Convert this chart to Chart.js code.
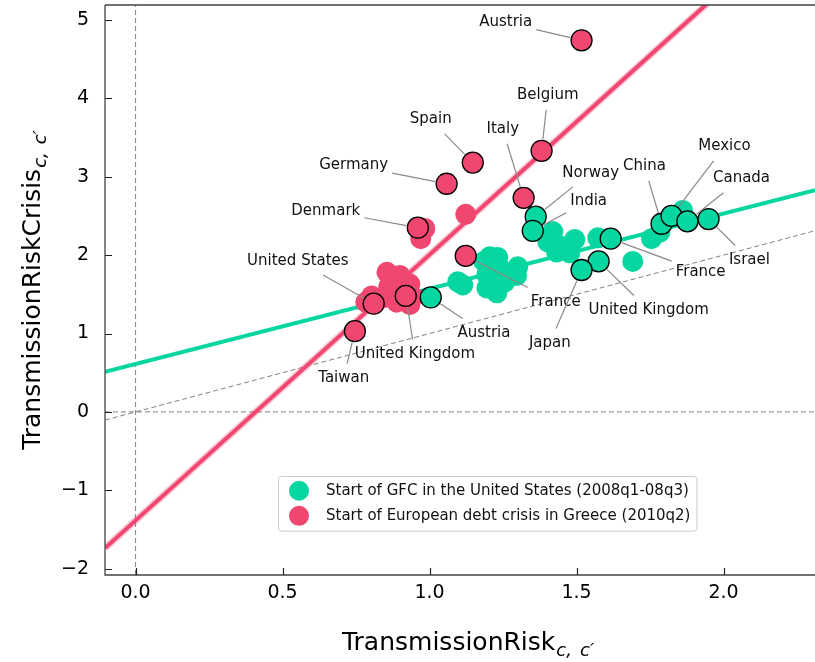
<!DOCTYPE html>
<html>
<head>
<meta charset="utf-8">
<script src="https://cdn.jsdelivr.net/npm/chart.js@4/dist/chart.umd.min.js"></script>
<style>
  html, body { margin: 0; padding: 0; background: #ffffff; }
  #wrap { width: 815px; height: 662px; }
</style>
</head>
<body>
<div id="wrap"><canvas id="c" width="815" height="662"></canvas></div>
<script>
// Axis ranges and tick marks
const X_MIN = -0.104, X_MAX = 2.311;
const Y_MIN = -2.08, Y_MAX = 5.19;
const xTicks = [0, 0.5, 1.0, 1.5, 2.0];
const yTicks = [-2, -1, 0, 1, 2, 3, 4, 5];

// Start of GFC in the United States (2008q1-08q3): annotated pairs
const gfcNames  = ['Austria', 'Norway', 'India', 'France', 'United Kingdom', 'Japan', 'China', 'Mexico', 'Canada', 'Israel'];
const gfcX      = [1.004, 1.361, 1.351, 1.616, 1.575, 1.517, 1.789, 1.823, 1.877, 1.949];
const gfcY      = [1.46, 2.49, 2.31, 2.21, 1.92, 1.81, 2.40, 2.50, 2.43, 2.46];
const gfcLabelX = [1.185, 1.548, 1.541, 1.922, 1.745, 1.409, 1.731, 2.003, 2.061, 2.088];
const gfcLabelY = [1.009, 3.052, 2.695, 1.788, 1.303, 0.881, 3.129, 3.384, 2.976, 1.941];
// remaining GFC pairs
const gfcOtherX = [1.096, 1.113, 1.205, 1.232, 1.185, 1.195, 1.245, 1.195, 1.229, 1.256, 1.300, 1.296,
                   1.419, 1.402, 1.432, 1.453, 1.494, 1.477, 1.572, 1.691, 1.755, 1.783, 1.861];
const gfcOtherY = [1.66, 1.62, 1.98, 1.97, 1.92, 1.75, 1.81, 1.58, 1.52, 1.66, 1.85, 1.74,
                   2.30, 2.17, 2.04, 2.11, 2.20, 2.03, 2.22, 1.92, 2.21, 2.29, 2.57];

// Start of European debt crisis in Greece (2010q2): annotated pairs
const grcNames  = ['Austria', 'Belgium', 'Spain', 'Italy', 'Germany', 'Denmark', 'France', 'United States', 'United Kingdom', 'Taiwan'];
const grcX      = [1.517, 1.381, 1.147, 1.320, 1.058, 0.960, 1.123, 0.810, 0.919, 0.746];
const grcY      = [4.74, 3.33, 3.18, 2.73, 2.91, 2.35, 1.99, 1.38, 1.48, 1.03];
const grcLabelX = [1.259, 1.402, 1.004, 1.249, 0.742, 0.647, 1.429, 0.552, 0.950, 0.708];
const grcLabelY = [4.968, 4.035, 3.729, 3.602, 3.142, 2.567, 1.405, 1.928, 0.741, 0.434];
// remaining Greece pairs
const grcOtherX = [1.123, 0.984, 0.970, 0.855, 0.899, 0.933, 0.861, 0.882, 0.803, 0.783, 0.848, 0.888, 0.943, 0.933];
const grcOtherY = [2.52, 2.34, 2.21, 1.78, 1.74, 1.63, 1.60, 1.53, 1.48, 1.40, 1.46, 1.40, 1.47, 1.37];

// Fitted regression lines (GFC, Greece)
const fitIntercept = [0.61, -1.384];
const fitSlope     = [0.96, 3.39];

const seriesLabels = ['Start of GFC in the United States (2008q1-08q3)',
                      'Start of European debt crisis in Greece (2010q2)'];

const GREEN = '#06D6A0';
const RED = '#EF476F';
const FONT = "'DejaVu Sans', 'Liberation Sans', sans-serif";

const pts = (xs, ys) => xs.map((x, i) => ({ x: x, y: ys[i] }));
const fitLine = k => [X_MIN, X_MAX].map(x => ({ x: x, y: fitIntercept[k] + fitSlope[k] * x }));

const refStyle = { type: 'line', borderColor: '#808080', borderWidth: 1, borderDash: [5, 3],
                   pointRadius: 0, fill: false, order: 10 };

const datasets = [
  Object.assign({ data: [{ x: X_MIN, y: X_MIN }, { x: X_MAX, y: X_MAX }] }, refStyle),
  Object.assign({ data: [{ x: X_MIN, y: 0 }, { x: X_MAX, y: 0 }] }, refStyle),
  Object.assign({ data: [{ x: 0, y: Y_MIN }, { x: 0, y: Y_MAX }] }, refStyle),
  { label: seriesLabels[0], data: pts(gfcOtherX, gfcOtherY), backgroundColor: GREEN,
    borderWidth: 0, pointRadius: 10.5, order: 9 },
  { type: 'line', data: fitLine(0), borderColor: GREEN, borderWidth: 4, pointRadius: 0, fill: false, order: 8 },
  { label: seriesLabels[1], data: pts(grcOtherX, grcOtherY), backgroundColor: RED,
    borderWidth: 0, pointRadius: 10.5, order: 7 },
  { type: 'line', data: fitLine(1), borderColor: 'rgba(239,71,111,0.3)', borderWidth: 7, pointRadius: 0, fill: false, order: 6 },
  { type: 'line', data: fitLine(1), borderColor: RED, borderWidth: 4, pointRadius: 0, fill: false, order: 5 },
  { data: pts(gfcX, gfcY), backgroundColor: GREEN, borderColor: '#000', borderWidth: 1.3,
    pointRadius: 10.5, order: 4 },
  { data: pts(grcX, grcY), backgroundColor: RED, borderColor: '#000', borderWidth: 1.3,
    pointRadius: 10.5, order: 3 }
];

function fmtY(v) { return v < 0 ? '\u2212' + Math.abs(v) : String(v); }

// text followed by an italic math-style subscript "c, c′"
function drawSubscripted(ctx, main, size) {
  const subSize = Math.round(size * 0.72);
  ctx.font = size + 'px ' + FONT;
  const w1 = ctx.measureText(main).width;
  ctx.font = 'italic ' + subSize + 'px ' + FONT;
  const wA = ctx.measureText('c,').width;
  const gap = subSize * 0.45;
  const wB = ctx.measureText('c\u2032').width;
  const total = w1 + 1 + wA + gap + wB;
  const base = size * 0.36;
  const subBase = base + size * 0.25;
  ctx.textBaseline = 'alphabetic';
  ctx.textAlign = 'left';
  let cx = -total / 2;
  ctx.font = size + 'px ' + FONT;
  ctx.fillText(main, cx, base);
  cx += w1 + 1;
  ctx.font = 'italic ' + subSize + 'px ' + FONT;
  ctx.fillText('c,', cx, subBase);
  cx += wA + gap;
  ctx.fillText('c\u2032', cx, subBase);
}

const decor = {
  id: 'decor',
  afterDatasetsDraw(chart) {
    const { ctx, chartArea: a, scales: { x, y } } = chart;
    ctx.save();

    // annotations with leader lines
    const LABEL_SIZE = 15;
    ctx.font = LABEL_SIZE + 'px ' + FONT;
    const annotate = (names, xs, ys, lx, ly) => {
      names.forEach((name, i) => {
        const px = x.getPixelForValue(xs[i]), py = y.getPixelForValue(ys[i]);
        const tx = x.getPixelForValue(lx[i]), ty = y.getPixelForValue(ly[i]);
        const w = ctx.measureText(name).width;
        const hw = w / 2 + 4, hh = LABEL_SIZE * 0.75 + 3;
        const dx = px - tx, dy = py - ty;
        const t = Math.min(dx !== 0 ? hw / Math.abs(dx) : Infinity, dy !== 0 ? hh / Math.abs(dy) : Infinity);
        const sx = tx + dx * t, sy = ty + dy * t;
        const len = Math.hypot(dx, dy);
        const ex = px - dx / len * 11.5, ey = py - dy / len * 11.5;
        ctx.strokeStyle = '#8a8a8a';
        ctx.lineWidth = 1.2;
        ctx.beginPath(); ctx.moveTo(sx, sy); ctx.lineTo(ex, ey); ctx.stroke();
        ctx.fillStyle = '#111';
        ctx.textAlign = 'center';
        ctx.textBaseline = 'middle';
        ctx.fillText(name, tx, ty);
      });
    };
    annotate(grcNames, grcX, grcY, grcLabelX, grcLabelY);
    annotate(gfcNames, gfcX, gfcY, gfcLabelX, gfcLabelY);

    // spines
    ctx.strokeStyle = '#444';
    ctx.lineWidth = 1.3;
    ctx.beginPath();
    ctx.moveTo(a.left, a.top); ctx.lineTo(a.left, a.bottom); ctx.lineTo(a.right, a.bottom);
    ctx.moveTo(a.left, a.top); ctx.lineTo(a.right, a.top);
    ctx.stroke();

    // inward ticks
    ctx.strokeStyle = '#222';
    ctx.lineWidth = 1.2;
    ctx.beginPath();
    xTicks.forEach(v => { const p = Math.round(x.getPixelForValue(v)) + 0.5; ctx.moveTo(p, a.bottom); ctx.lineTo(p, a.bottom - 7); });
    yTicks.forEach(v => { const p = Math.round(y.getPixelForValue(v)) + 0.5; ctx.moveTo(a.left, p); ctx.lineTo(a.left + 7, p); });
    ctx.stroke();

    // legend
    const LEG_SIZE = 15;
    const pad = LEG_SIZE * 0.4, handleW = LEG_SIZE * 2, textPad = LEG_SIZE * 0.8;
    const rowH = LEG_SIZE * 1.17, rowGap = LEG_SIZE * 0.5;
    ctx.font = LEG_SIZE + 'px ' + FONT;
    const textW = Math.max(...seriesLabels.map(s => ctx.measureText(s).width));
    const lx = a.left + 173, ly = a.top + 471;
    const lw = pad * 2 + handleW + textPad + textW, lh = pad * 2 + rowH * 2 + rowGap;
    ctx.fillStyle = 'rgba(255,255,255,0.85)';
    ctx.strokeStyle = '#cccccc';
    ctx.lineWidth = 1;
    ctx.beginPath();
    ctx.roundRect(lx + 0.5, ly + 0.5, lw, lh, 3);
    ctx.fill(); ctx.stroke();
    [GREEN, RED].forEach((c, i) => {
      const cy = ly + pad + rowH / 2 + i * (rowH + rowGap);
      ctx.fillStyle = c;
      ctx.beginPath(); ctx.arc(lx + pad + handleW / 2, cy, 10, 0, Math.PI * 2); ctx.fill();
      ctx.fillStyle = '#111';
      ctx.textAlign = 'left';
      ctx.textBaseline = 'middle';
      ctx.fillText(seriesLabels[i], lx + pad + handleW + textPad, cy);
    });

    // axis titles
    ctx.fillStyle = '#000';
    ctx.save();
    ctx.translate((a.left + a.right) / 2 + 8, 641);
    drawSubscripted(ctx, 'TransmissionRisk', 25);
    ctx.restore();
    ctx.save();
    ctx.translate(31, (a.top + a.bottom) / 2);
    ctx.rotate(-Math.PI / 2);
    drawSubscripted(ctx, 'TransmissionRiskCrisis', 25);
    ctx.restore();

    ctx.restore();
  }
};

new Chart(document.getElementById('c'), {
  type: 'scatter',
  data: { datasets: datasets },
  options: {
    responsive: false,
    animation: false,
    devicePixelRatio: 1,
    layout: { autoPadding: false, padding: { top: 5, right: 0, bottom: 0, left: 0 } },
    plugins: { legend: { display: false }, tooltip: { enabled: false } },
    scales: {
      x: {
        type: 'linear', min: X_MIN, max: X_MAX,
        grid: { display: false, drawTicks: false },
        border: { display: false },
        ticks: { color: '#000', font: { family: FONT, size: 19 }, padding: 7, autoSkip: false, maxRotation: 0,
                 callback: v => v.toFixed(1) },
        afterBuildTicks: s => { s.ticks = xTicks.map(v => ({ value: v })); },
        afterFit: s => { s.height = 87; s.paddingLeft = 0; s.paddingRight = 0; s.paddingTop = 0; s.paddingBottom = 0; }
      },
      y: {
        type: 'linear', min: Y_MIN, max: Y_MAX,
        grid: { display: false, drawTicks: false },
        border: { display: false },
        ticks: { color: '#000', font: { family: FONT, size: 19 }, padding: 16, autoSkip: false,
                 callback: v => fmtY(v) },
        afterBuildTicks: s => { s.ticks = yTicks.map(v => ({ value: v })); },
        afterFit: s => { s.width = 105; s.paddingLeft = 0; s.paddingRight = 0; s.paddingTop = 0; s.paddingBottom = 0; }
      }
    }
  },
  plugins: [decor]
});
</script>
</body>
</html>
